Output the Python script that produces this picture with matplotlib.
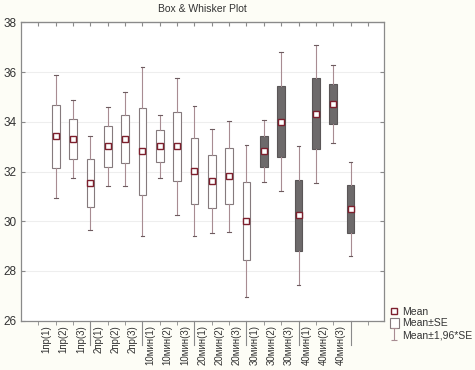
import numpy as np
import matplotlib
matplotlib.use("Agg")
import matplotlib.pyplot as plt
from matplotlib.lines import Line2D
from matplotlib.patches import Patch
from matplotlib.path import Path
import matplotlib.transforms as mtransforms

plt.rcParams["font.family"] = ["Liberation Sans", "DejaVu Sans"]

# ---------------------------------------------------------------- data
categories = ["1пр(1)", "1пр(2)", "1пр(3)", "2пр(1)", "2пр(2)", "2пр(3)",
              "10мин(1)", "10мин(2)", "10мин(3)", "20мин(1)", "20мин(2)",
              "20мин(3)", "30мин(1)", "30мин(2)", "30мин(3)", "40мин(1)",
              "40мин(2)", "40мин(3)"]
means = [33.41, 33.32, 31.52, 33.01, 33.32, 32.81, 33.01, 33.01, 32.01,
         31.61, 31.81, 30.01, 32.81, 34.01, 30.24, 34.32, 34.72, 30.51]
se = [1.255, 0.80, 0.965, 0.815, 0.965, 1.735, 0.645, 1.40, 1.335,
      1.065, 1.135, 1.565, 0.635, 1.435, 1.43, 1.42, 0.795, 0.965]
dark = [False] * 12 + [True] * 6
yticks = [26, 28, 30, 32, 34, 36, 38]

# ---------------------------------------------------------------- colours
BG = "#FDFDF6"
INK = "#333333"
SPINE = "#8a8a8a"
BOX_EDGE = "#857a7d"
WHISK = "#a88c92"
DARK_FILL = "#6d6a6b"
MEAN_EDGE = "#7d1f2d"

W, H = 475, 370
fig = plt.figure(figsize=(W / 100, H / 100), dpi=100)
fig.patch.set_facecolor(BG)
ax = fig.add_axes([21 / W, 1 - 320.7 / H, (383.5 - 21) / W, (320.7 - 22.3) / H])
ax.set_facecolor("white")

# box = mean +- SE, whiskers = mean +- 1.96*SE
stats = []
for m, s in zip(means, se):
    stats.append(dict(med=m, mean=m, q1=m - s, q3=m + s,
                      whislo=m - 1.96 * s, whishi=m + 1.96 * s, fliers=[]))
pos = np.arange(len(categories))
bp = ax.bxp(stats, positions=pos, widths=0.44, capwidths=0.22,
            patch_artist=True, showmeans=True, showfliers=False,
            boxprops=dict(edgecolor=BOX_EDGE, linewidth=0.8),
            whiskerprops=dict(color=WHISK, linewidth=0.8),
            capprops=dict(color="#6e5c60", linewidth=0.8),
            medianprops=dict(linewidth=0),
            meanprops=dict(marker="s", markersize=4.5, markerfacecolor="white",
                           markeredgecolor=MEAN_EDGE, markeredgewidth=1.0))
for patch, d in zip(bp["boxes"], dark):
    patch.set_facecolor(DARK_FILL if d else "white")
    patch.set_edgecolor("#5a5657" if d else BOX_EDGE)

ax.set_xlim(-2, 18.9)
ax.set_ylim(26, 38)
ax.set_yticks(yticks)
ax.set_yticklabels([str(t) for t in yticks], fontsize=8.5, color=INK)
ax.yaxis.grid(True, color="#eeeeee", linewidth=0.8)
ax.set_axisbelow(True)
ax.tick_params(axis="y", direction="in", length=3, left=True, right=True,
               color=SPINE, pad=3)

# labels sit a bit left of each box (as in the original)
ax.set_xticks(pos - 0.55)
ax.set_xticklabels(categories, rotation=90, fontsize=7, color=INK)
ax.tick_params(axis="x", which="major", length=0, pad=3)
ax.set_xticks(np.arange(-1, len(categories) + 1), minor=True)
ax.tick_params(axis="x", which="minor", direction="out", length=3,
               color=SPINE, bottom=True)
top = ax.secondary_xaxis("top")
top.set_xticks(np.arange(-1, len(categories) + 1))
top.tick_params(direction="in", length=3, color=SPINE, labeltop=False)
top.spines["top"].set_color(SPINE)

for sp in ax.spines.values():
    sp.set_color(SPINE)
    sp.set_linewidth(0.9)

# group separators below the axis
trans = mtransforms.blended_transform_factory(ax.transData, ax.transAxes)
for i in range(len(categories)):
    if i % 3 == 2:
        ax.plot([i, i], [0, -24 / 298.4], color=SPINE, lw=0.8,
                transform=trans, clip_on=False)

fig.text(202 / W, 1 - 9 / H, "Box & Whisker Plot", ha="center", va="center",
         fontsize=7.5, color=INK)

# legend
whisk_marker = Path([(-0.5, -1), (0.5, -1), (0, -1), (0, 1), (-0.5, 1), (0.5, 1)],
                    [Path.MOVETO, Path.LINETO, Path.MOVETO, Path.LINETO,
                     Path.MOVETO, Path.LINETO])
handles = [
    Line2D([], [], ls="none", marker="s", markersize=4, markerfacecolor="white",
           markeredgecolor=MEAN_EDGE, markeredgewidth=1.0),
    Patch(facecolor="white", edgecolor=BOX_EDGE, linewidth=0.8),
    Line2D([], [], ls="none", marker=whisk_marker, markersize=9,
           markeredgecolor=WHISK, markeredgewidth=0.8),
]
fig.legend(handles, ["Mean", "Mean±SE", "Mean±1,96*SE"],
           loc="upper left", bbox_to_anchor=(383 / W, 1 - 299 / H),
           frameon=False, fontsize=7.5, handlelength=0.8, handleheight=1.1,
           handletextpad=0.3, labelspacing=0.1, borderpad=0.2,
           labelcolor=INK)

fig.savefig("out.png", dpi=100, facecolor=BG)
